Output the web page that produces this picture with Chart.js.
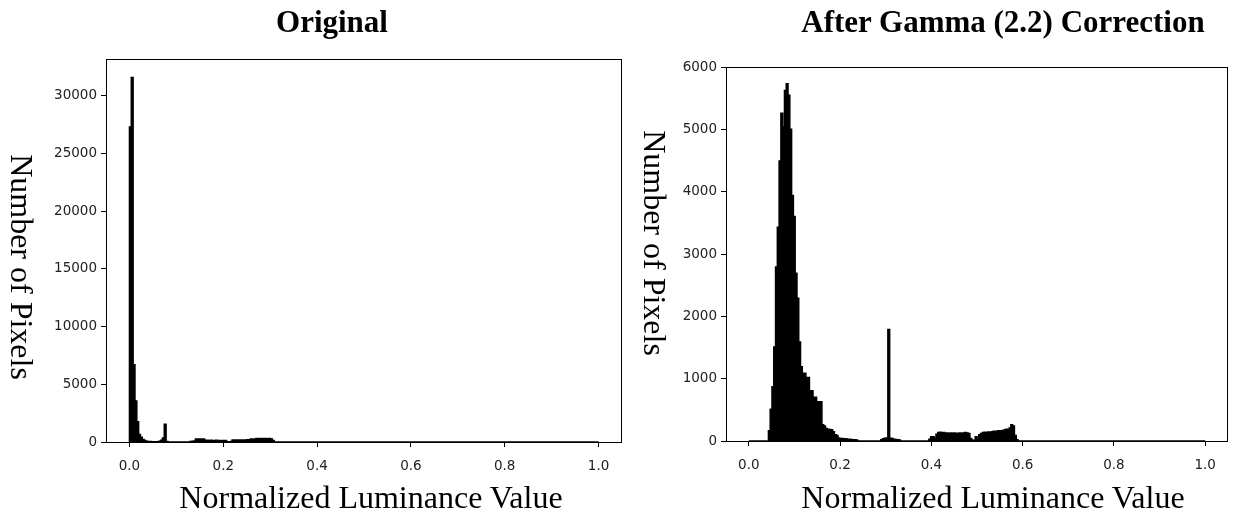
<!DOCTYPE html>
<html lang="en">
<head>
  <meta charset="UTF-8" />
  <title>Luminance histograms</title>
  <script src="https://cdn.jsdelivr.net/npm/chart.js"></script>
  <style>
    body { margin: 0; background: #fff; }
    #page { position: relative; width: 1233px; height: 519px; overflow: hidden; }
    .box { position: absolute; top: 0; }
    .title { position: absolute; top: 6px; font: bold 31px "Liberation Serif", serif; line-height: 1; white-space: nowrap; transform: translateX(-50%); }
    .xlabel { position: absolute; top: 481px; font: 32px "Liberation Serif", serif; line-height: 1; white-space: nowrap; transform: translateX(-50%); }
    .ylabel { position: absolute; font: 32px "Liberation Serif", serif; line-height: 1; white-space: nowrap; writing-mode: vertical-rl; transform: translate(-50%, -50%); }
  </style>
</head>
<body>
<div id="page">
  <div class="box" style="left:0"><canvas id="orig" width="640" height="519"></canvas></div>
  <div class="box" style="left:640px"><canvas id="gamma" width="593" height="519"></canvas></div>

  <div class="title" style="left:332px">Original</div>
  <div class="title" style="left:1003px">After Gamma (2.2) Correction</div>
  <div class="xlabel" style="left:371px">Normalized Luminance Value</div>
  <div class="xlabel" style="left:993px">Normalized Luminance Value</div>
  <div class="ylabel" style="left:22px; top:267px">Number of Pixels</div>
  <div class="ylabel" style="left:655px; top:243px">Number of Pixels</div>
</div>

<script>
  // 256 bins over [0, 1]; only non-empty runs are listed, everything else is 0
  const binCount = 256;

  // Original
  const origDarkStart = 0;
  const origDark = [27300, 31600, 6700, 3550, 1760, 660, 420, 220, 120, 70, 50, 40, 30, 25, 25, 30, 60, 150, 350, 1540, 40];
  const origMidStart = 33;
  const origMid = [40, 60, 90, 250, 260, 260, 250, 250, 160, 150, 140, 150, 140, 140, 150, 140, 140, 140, 130, 130,
                   30, 0, 40, 170, 170, 160, 170, 170, 180, 170, 180, 190, 200, 250, 240, 250, 300, 290, 310, 270,
                   300, 310, 280, 300, 270, 120];

  // After gamma correction
  const gammaPeakStart = 11;
  const gammaPeak = [165, 508, 870, 1510, 2790, 3430, 4490, 5260, 5040, 5625, 5730, 5545, 5000, 3940, 3600, 2690, 2290,
                     1590, 1190, 1085, 1085, 1020, 1020, 805, 805, 700, 700, 630, 630, 630, 260, 240, 200, 190, 185,
                     180, 150, 100, 90, 50, 40, 40, 35, 35, 30, 30, 25, 20, 20, 15];
  const gammaSpikeStart = 74;
  const gammaSpike = [20, 35, 45, 50, 1790, 45, 40, 30, 25, 20, 15];
  const gammaUpperStart = 101;
  const gammaUpper = [30, 70, 70, 40, 110, 135, 140, 130, 135, 125, 130, 120, 130, 125, 130, 120, 125, 130, 125, 130,
                      135, 130, 120, 40, 15, 10, 70, 30, 100, 120, 135, 140, 135, 145, 140, 150, 155, 150, 160, 165,
                      160, 170, 175, 190, 180, 210, 260, 240, 90, 20];

  const xTicks = [0, 0.2, 0.4, 0.6, 0.8, 1.0];
  const origYTicks = [0, 5000, 10000, 15000, 20000, 25000, 30000];
  const gammaYTicks = [0, 1000, 2000, 3000, 4000, 5000, 6000];

  function buildBins(runs) {
    const counts = new Array(binCount).fill(0);
    runs.forEach(([start, vals]) => vals.forEach((v, i) => { counts[start + i] = v; }));
    // step outline: start at the baseline, one point per bin edge, back to baseline at 1.0
    const pts = [{ x: 0, y: 0 }];
    counts.forEach((c, i) => pts.push({ x: i / binCount, y: c }));
    pts.push({ x: 1, y: 0 });
    return pts;
  }

  const tickFont = { family: 'DejaVu Sans', size: 13.5 };

  const frame = {
    id: 'frame',
    afterDraw(chart) {
      const a = chart.chartArea, ctx = chart.ctx;
      ctx.save();
      ctx.strokeStyle = '#000';
      ctx.lineWidth = 1;
      ctx.strokeRect(Math.round(a.left) + 0.5, Math.round(a.top) + 0.5,
                     Math.round(a.right - a.left) - 1, Math.round(a.bottom - a.top));
      ctx.restore();
    }
  };

  function makeHist(id, points, yMax, yTicks, pad, yWidth, xHeight) {
    new Chart(document.getElementById(id), {
      type: 'line',
      data: {
        datasets: [{
          data: points,
          stepped: true,
          fill: 'origin',
          backgroundColor: '#000',
          borderColor: '#000',
          borderWidth: 1.5,
          pointRadius: 0,
          tension: 0
        }]
      },
      options: {
        responsive: false,
        animation: false,
        events: [],
        layout: { padding: pad },
        plugins: { legend: { display: false }, tooltip: { enabled: false } },
        scales: {
          x: {
            type: 'linear',
            min: -0.05,
            max: 1.05,
            afterBuildTicks: s => { s.ticks = xTicks.map(v => ({ value: v })); },
            afterFit: s => { s.height = xHeight; },
            ticks: { font: tickFont, color: '#222', padding: 11, maxRotation: 0, callback: v => v.toFixed(1) },
            grid: { drawOnChartArea: false, tickLength: 5, color: '#000' },
            border: { display: false }
          },
          y: {
            min: 0,
            max: yMax,
            afterBuildTicks: s => { s.ticks = yTicks.map(v => ({ value: v })); },
            afterFit: s => { s.width = yWidth; },
            ticks: { font: tickFont, color: '#222', padding: 4, callback: v => String(v) },
            grid: { drawOnChartArea: false, tickLength: 5, color: '#000' },
            border: { display: false }
          }
        }
      },
      plugins: [frame]
    });
  }

  makeHist('orig', buildBins([[origDarkStart, origDark], [origMidStart, origMid]]),
           33200, origYTicks, { left: 0, top: 59, right: 18, bottom: 0 }, 106, 77);
  makeHist('gamma', buildBins([[gammaPeakStart, gammaPeak], [gammaSpikeStart, gammaSpike], [gammaUpperStart, gammaUpper]]),
           6000, gammaYTicks, { left: 0, top: 67, right: 5, bottom: 0 }, 86, 78);
</script>
</body>
</html>
